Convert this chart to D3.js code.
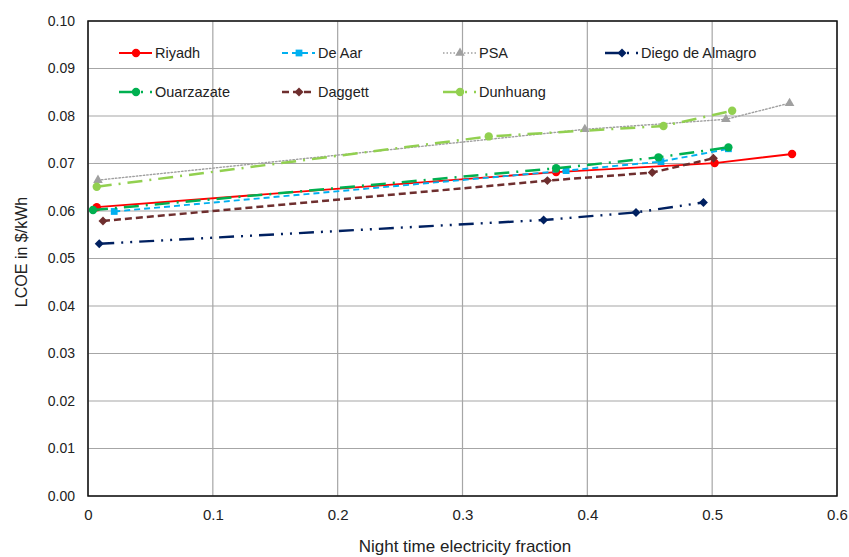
<!DOCTYPE html>
<meta charset="utf-8">
<style>
body { margin: 0; background: #fff; }
text { font-family: "Liberation Sans", Arial, sans-serif; fill: #222; }
.tick-x text, .xtitle { font-family: "Liberation Sans Narrow", "Liberation Sans", Arial, sans-serif; }
</style>
<body><svg width="849" height="557"></svg></body>
<script src="https://d3js.org/d3.v7.min.js"></script>
<script>

// data
var sites = ["Riyadh", "De Aar", "PSA", "Diego de Almagro", "Ouarzazate", "Daggett", "Dunhuang"];

var riyadh     = [[0.007, 0.0608], [0.375, 0.0682], [0.502, 0.0701], [0.564, 0.0720]];
var deAar      = [[0.021, 0.0599], [0.383, 0.0685], [0.459, 0.0704], [0.513, 0.0731]];
var psa        = [[0.008, 0.0665], [0.398, 0.0772], [0.511, 0.0793], [0.562, 0.0827]];
var diego      = [[0.009, 0.0531], [0.365, 0.0581], [0.439, 0.0597], [0.493, 0.0618]];
var ouarzazate = [[0.004, 0.0602], [0.375, 0.0690], [0.457, 0.0713], [0.513, 0.0734]];
var daggett    = [[0.012, 0.0579], [0.368, 0.0664], [0.452, 0.0681], [0.501, 0.0711]];
var dunhuang   = [[0.007, 0.0651], [0.321, 0.0757], [0.461, 0.0779], [0.516, 0.0811]];

var xTicks = [0, 0.1, 0.2, 0.3, 0.4, 0.5, 0.6];
var yTicks = [0, 0.01, 0.02, 0.03, 0.04, 0.05, 0.06, 0.07, 0.08, 0.09, 0.10];

var styles = {
  "Riyadh":           {data: riyadh,     color: "#ff0000", w: 1.8,  dash: null,                       marker: "circle"},
  "De Aar":           {data: deAar,      color: "#00b0f0", w: 1.9,  dash: "6,4",                      marker: "square"},
  "PSA":              {data: psa,        color: "#a0a0a0", w: 1.4,  dash: "1.5,2",                    marker: "triangle"},
  "Diego de Almagro": {data: diego,      color: "#002060", w: 2.4,  dash: "15,7,2,7,2,7",             marker: "diamond"},
  "Ouarzazate":       {data: ouarzazate, color: "#00b050", w: 2.5,  dash: "15,7,2,7",                 marker: "circle"},
  "Daggett":          {data: daggett,    color: "#6e2e2e", w: 2.5,  dash: "7,4",                      marker: "diamond"},
  "Dunhuang":         {data: dunhuang,   color: "#92d050", w: 2.5,  dash: "15,7,2,7",                 marker: "circle"}
};

var svg = d3.select("svg"),
    margin = {top: 21, right: 12, bottom: 61, left: 88},
    width = +svg.attr("width") - margin.left - margin.right,
    height = +svg.attr("height") - margin.top - margin.bottom;

var x = d3.scaleLinear().domain([0, 0.6]).range([0, width]);
var y = d3.scaleLinear().domain([0, 0.1]).range([height, 0]);

var g = svg.append("g").attr("transform", "translate(" + margin.left + "," + margin.top + ")");

// grid
g.append("g")
    .selectAll("line.gy").data(yTicks).enter().append("line")
    .attr("x1", 0).attr("x2", width)
    .attr("y1", function(d) { return y(d); }).attr("y2", function(d) { return y(d); })
    .attr("stroke", "#a6a6a6").attr("stroke-width", 1.2);
g.append("g")
    .selectAll("line.gx").data(xTicks).enter().append("line")
    .attr("y1", 0).attr("y2", height)
    .attr("x1", function(d) { return x(d); }).attr("x2", function(d) { return x(d); })
    .attr("stroke", "#a6a6a6").attr("stroke-width", 1.2);

// axes (labels only)
var xAxis = g.append("g")
    .attr("class", "tick-x")
    .attr("transform", "translate(0," + height + ")")
    .call(d3.axisBottom(x).tickValues(xTicks).tickSize(0).tickPadding(13).tickFormat(d3.format("")));
xAxis.select(".domain").remove();
xAxis.selectAll("text").style("font-size", "15px").attr("fill", "#222");

var yAxis = g.append("g")
    .call(d3.axisLeft(y).tickValues(yTicks).tickSize(0).tickPadding(13).tickFormat(d3.format(".2f")));
yAxis.select(".domain").remove();
yAxis.selectAll("text").style("font-size", "14px").attr("fill", "#222");

// plot frame
g.append("rect")
    .attr("width", width).attr("height", height)
    .attr("fill", "none").attr("stroke", "#111").attr("stroke-width", 1.5);

var line = d3.line().x(function(d) { return x(d[0]); }).y(function(d) { return y(d[1]); });

var symbols = {
  circle: d3.symbolCircle,
  square: d3.symbolSquare,
  triangle: d3.symbolTriangle,
  diamond: d3.symbolSquare
};
var sizes = {circle: 55, square: 46, triangle: 40, diamond: 40};

function drawMarker(sel, s) {
  return sel.append("path")
      .attr("d", d3.symbol().type(symbols[s.marker]).size(sizes[s.marker]))
      .attr("transform", s.marker === "diamond" ? "rotate(45)" : null)
      .attr("fill", s.color);
}

sites.forEach(function(name) {
  var s = styles[name];
  g.append("path")
      .datum(s.data)
      .attr("d", line)
      .attr("fill", "none")
      .attr("stroke", s.color)
      .attr("stroke-width", s.w)
      .attr("stroke-dasharray", s.dash)
      .attr("stroke-linecap", s.marker === "triangle" ? "round" : "butt");
  s.data.forEach(function(d) {
    drawMarker(g.append("g").attr("transform", "translate(" + x(d[0]) + "," + y(d[1]) + ")"), s);
  });
});

// legend
var legendPos = [[31, 32], [194, 32], [355, 32], [517, 32], [31, 71], [194, 71], [355, 71]];
sites.forEach(function(name, i) {
  var s = styles[name];
  var lg = g.append("g").attr("transform", "translate(" + legendPos[i][0] + "," + legendPos[i][1] + ")");
  lg.append("line")
      .attr("x1", 0).attr("x2", 33)
      .attr("stroke", s.color).attr("stroke-width", s.w)
      .attr("stroke-dasharray", s.dash);
  drawMarker(lg.append("g").attr("transform", "translate(17,0)"), s);
  lg.append("text")
      .attr("x", 36).attr("dy", "0.35em")
      .style("font-size", "14.5px")
      .text(name);
});

// axis titles
svg.append("text")
    .attr("class", "xtitle")
    .attr("x", 465)
    .attr("y", 552)
    .attr("text-anchor", "middle")
    .style("font-size", "17px")
    .text("Night time electricity fraction");

svg.append("text")
    .attr("transform", "translate(27,252) rotate(-90)")
    .attr("text-anchor", "middle")
    .style("font-size", "16px")
    .text("LCOE in $/kWh");

</script>
